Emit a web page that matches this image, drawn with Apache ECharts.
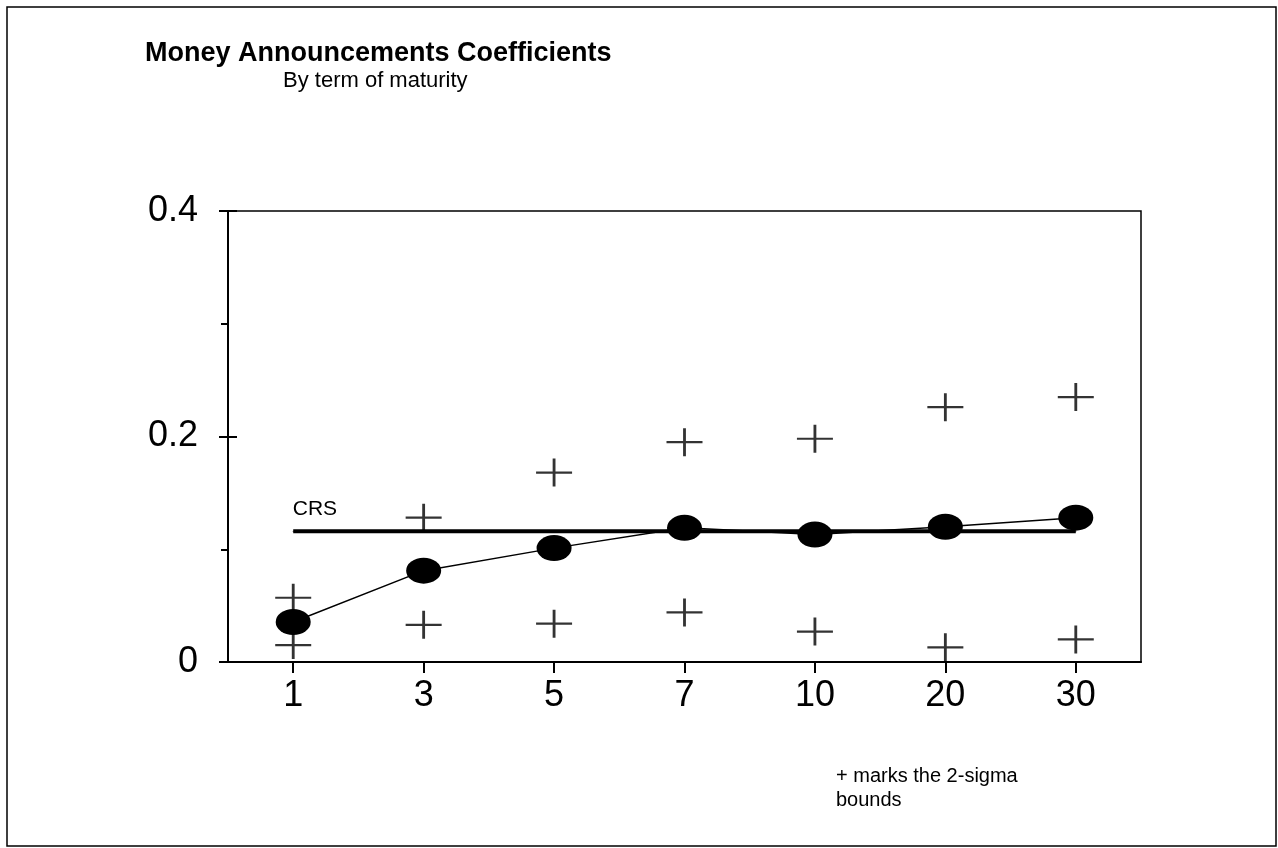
<!DOCTYPE html>
<html>
<head>
<meta charset="utf-8">
<script src="https://cdn.jsdelivr.net/npm/echarts@6/dist/echarts.min.js"></script>
<style>
  html, body { margin: 0; padding: 0; background: #fff; }
  #chart { width: 1278px; height: 848px; }
</style>
</head>
<body>
<div id="chart"></div>
<script>
const maturities = ['1', '3', '5', '7', '10', '20', '30']
const coefficients = [0.0355, 0.081, 0.101, 0.119, 0.113, 0.12, 0.128]
const upperBound = [0.057, 0.128, 0.168, 0.195, 0.198, 0.226, 0.235]
const lowerBound = [0.015, 0.033, 0.034, 0.044, 0.027, 0.013, 0.020]
const crsValue = 0.116
const yTicks = [0, 0.2, 0.4]

const chart = echarts.init(document.getElementById('chart'))
const font = 'Liberation Sans, Arial, Helvetica, sans-serif'
const cross = 'path://M0,14L36,14M18,0L18,28'

const crsData = maturities.map((m, i) => i === 0
  ? { value: crsValue, label: { show: true, formatter: 'CRS', position: [0, -32], fontSize: 21, color: '#000', fontFamily: font } }
  : crsValue)

const option = {
  backgroundColor: '#fff',
  animation: false,
  graphic: [
    { type: 'rect', shape: { x: 7, y: 7, width: 1269, height: 839 }, style: { fill: 'none', stroke: '#000', lineWidth: 1.5 } },
    { type: 'text', left: 145, top: 40, style: { text: 'Money Announcements Coefficients', font: 'bold 27px ' + font, fill: '#000' } },
    { type: 'text', left: 283, top: 70, style: { text: 'By term of maturity', font: '22px ' + font, fill: '#000' } },
    { type: 'text', left: 836, top: 764, style: { text: '+ marks the 2-sigma\nbounds', font: '20px ' + font, fill: '#000', lineHeight: 24 } }
  ],
  grid: { left: 228, top: 211, width: 913, height: 451, show: true, borderColor: '#000', borderWidth: 1.5, containLabel: false },
  xAxis: {
    type: 'category',
    data: maturities,
    boundaryGap: true,
    axisLine: { lineStyle: { color: '#000', width: 2 } },
    axisTick: { show: true, alignWithLabel: true, length: 11, lineStyle: { color: '#000', width: 2 } },
    axisLabel: { color: '#000', fontSize: 36, fontFamily: font, margin: 16 },
    splitLine: { show: false }
  },
  yAxis: [
    {
      type: 'value',
      min: 0, max: 0.4, interval: 0.2,
      axisLine: { show: true, lineStyle: { color: '#000', width: 2 } },
      axisTick: { show: true, length: 9, lineStyle: { color: '#000', width: 2 } },
      minorTick: { show: true, splitNumber: 2, length: 7, lineStyle: { color: '#000', width: 2 } },
      axisLabel: {
        color: '#000', fontSize: 36, fontFamily: font, margin: 30,
        formatter: v => yTicks.includes(v) ? (v === 0 ? '0' : String(v)) : ''
      },
      splitLine: { show: false }
    },
    {
      type: 'value',
      position: 'left',
      min: 0, max: 0.4, interval: 0.2,
      axisLine: { show: false },
      axisTick: { show: true, inside: true, length: 9, lineStyle: { color: '#000', width: 2 } },
      axisLabel: { show: false },
      splitLine: { show: false }
    }
  ],
  series: [
    {
      name: 'CRS',
      type: 'line',
      data: crsData,
      symbol: 'circle',
      symbolSize: 1,
      itemStyle: { color: '#000' },
      lineStyle: { color: '#000', width: 4 },
      z: 2
    },
    {
      name: 'Coefficient',
      type: 'line',
      data: coefficients,
      symbol: 'circle',
      symbolSize: [35, 26],
      itemStyle: { color: '#000' },
      lineStyle: { color: '#000', width: 1.5 },
      z: 3
    },
    {
      name: 'Upper',
      type: 'scatter',
      data: upperBound,
      symbol: cross,
      symbolSize: [36, 28],
      itemStyle: { color: 'rgba(0,0,0,0)', borderColor: '#000', borderWidth: 2.5 },
      z: 4
    },
    {
      name: 'Lower',
      type: 'scatter',
      data: lowerBound,
      symbol: cross,
      symbolSize: [36, 28],
      itemStyle: { color: 'rgba(0,0,0,0)', borderColor: '#000', borderWidth: 2.5 },
      z: 4
    }
  ]
}

chart.setOption(option)
</script>
</body>
</html>
